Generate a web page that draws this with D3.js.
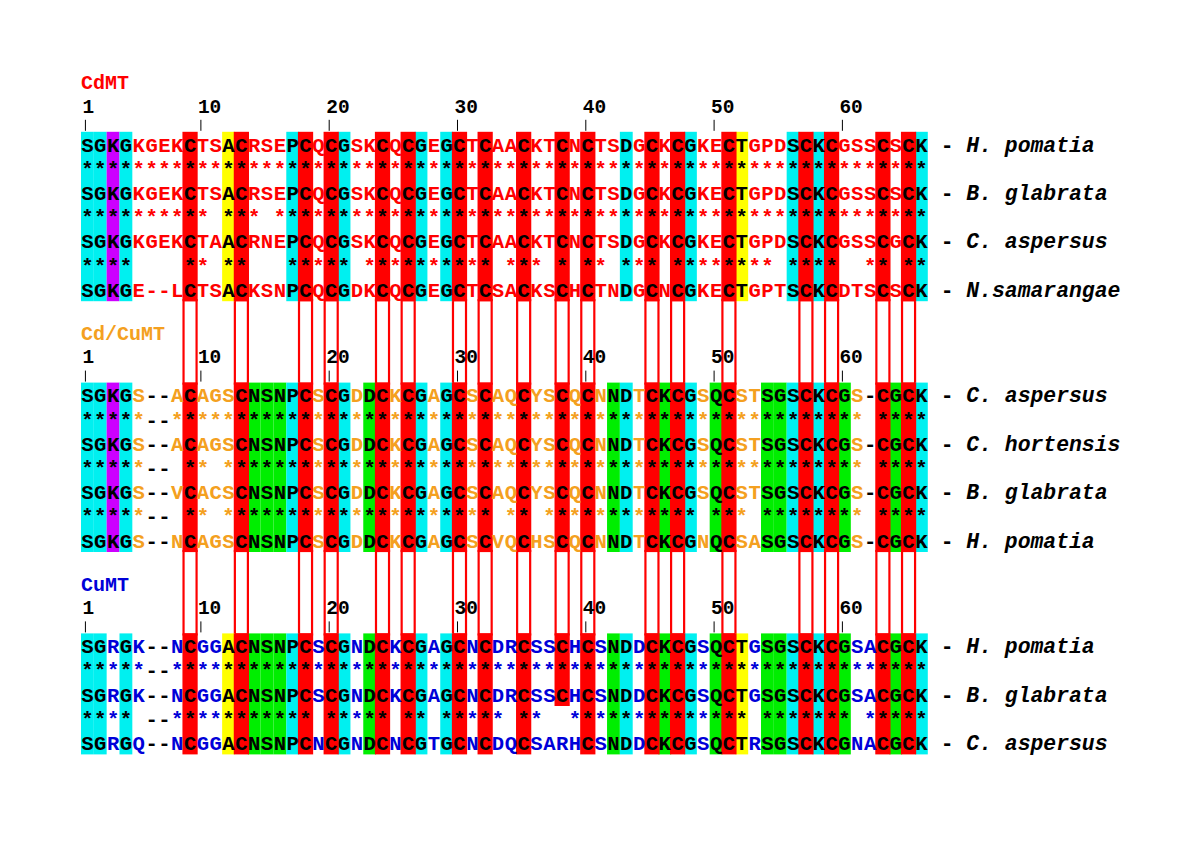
<!DOCTYPE html>
<html>
<head>
<meta charset="utf-8">
<script src="https://cdn.jsdelivr.net/npm/d3@7"></script>
<style>
  body { margin: 0; background: #fff; }
</style>
</head>
<body>
<main></main>
<script>
// ---------- data ----------
var columnNumbers = d3.range(1, 67);
var tickNumbers = [1, 10, 20, 30, 40, 50, 60];
var groupNames = ["CdMT", "Cd/CuMT", "CuMT"];

// strings are written in chunks of ten columns
var cdSpecies = ["H. pomatia", "B. glabrata", "C. aspersus", "N.samarangae"];
var cdSequences = [
    "SGKGKGEKCT" + "SACRSEPCQC" + "GSKCQCGEGC" + "TCAACKTCNC" + "TSDGCKCGKE" + "CTGPDSCKCG" + "SSCSCK",
    "SGKGKGEKCT" + "SACRSEPCQC" + "GSKCQCGEGC" + "TCAACKTCNC" + "TSDGCKCGKE" + "CTGPDSCKCG" + "SSCSCK",
    "SGKGKGEKCT" + "AACRNEPCQC" + "GSKCQCGEGC" + "TCAACKTCNC" + "TSDGCKCGKE" + "CTGPDSCKCG" + "SSCGCK",
    "SGKGE--LCT" + "SACKSNPCQC" + "GDKCQCGEGC" + "TCSACKSCHC" + "TNDGCNCGKE" + "CTGPTSCKCD" + "TSCSCK"
];
var cdStars = [
    "**********" + "**********" + "**********" + "**********" + "**********" + "**********" + "******",
    "**********" + " *** *****" + "**********" + "**********" + "**********" + "**********" + "******",
    "****    **" + " **   ****" + "* ********" + "** *** * *" + "* *** ****" + "**** **** " + " ** **"
];
var cdShading = "ccmc....r." + ".yr...cr.r" + "c..r.rc.cr" + ".r..r..r.r" + "..c.r.rc.." + "ry...crcr." + "..r.rc";

var ccSpecies = ["C. aspersus", "C. hortensis", "B. glabrata", "H. pomatia"];
var ccSequences = [
    "SGKGS--ACA" + "GSCNSNPCSC" + "GDDCKCGAGC" + "SCAQCYSCQC" + "NNDTCKCGSQ" + "CSTSGSCKCG" + "S-CGCK",
    "SGKGS--ACA" + "GSCNSNPCSC" + "GDDCKCGAGC" + "SCAQCYSCQC" + "NNDTCKCGSQ" + "CSTSGSCKCG" + "S-CGCK",
    "SGKGS--VCA" + "CSCNSNPCSC" + "GDDCKCGAGC" + "SCAQCYSCQC" + "NNDTCKCGSQ" + "CSTSGSCKCG" + "S-CGCK",
    "SGKGS--NCA" + "GSCNSNPCSC" + "GDDCKCGAGC" + "SCVQCHSCQC" + "NNDTCKCGNQ" + "CSASGSCKCG" + "S-CGCK"
];
var ccStars = [
    "*****--***" + "**********" + "**********" + "**********" + "**********" + "**********" + "* ****",
    "*****-- **" + " *********" + "**********" + "**********" + "**********" + "**********" + "* ****",
    "*****-- **" + " *********" + "**********" + "** ** ****" + "******** *" + "** *******" + "* ****"
];
var ccShading = "ccmc....r." + "..rgggcr.r" + "c.gr.rc.cr" + ".r..r..r.r" + ".gc.rgrc.g" + "r..ggcrcrg" + "..rgrc";

var cuSpecies = ["H. pomatia", "B. glabrata", "C. aspersus"];
var cuSequences = [
    "SGRGK--NCG" + "GACNSNPCSC" + "GNDCKCGAGC" + "NCDRCSSCHC" + "SNDDCKCGSQ" + "CTGSGSCKCG" + "SACGCK",
    "SGRGK--NCG" + "GACNSNPCSC" + "GNDCKCGAGC" + "NCDRCSSCHC" + "SNDDCKCGSQ" + "CTGSGSCKCG" + "SACGCK",
    "SGRGQ--NCG" + "GACNSNPCNC" + "GNDCNCGTGC" + "NCDQCSARHC" + "SNDDCKCGSQ" + "CTRSGSCKCG" + "NACGCK"
];
var cuStars = [
    "*****--***" + "**********" + "**********" + "**********" + "**********" + "**********" + "******",
    "**** --***" + "******** *" + "**** ** **" + "*** **  **" + "**********" + "** *******" + " *****"
];
var cuShading = "cc.c....r." + ".yrgggcr.r" + "c.gr.rc.cr" + ".r..r..r.r" + ".gc.rgrc.g" + "ry.ggcrcrg" + "..rgrc";
// column 38 of CuMT is only red over the first three lines
var cuShortColumns = {38: 3};

// ---------- styles ----------
var groupColor = ["#ff0000", "#f4a020", "#0000d8"];
var seqDashColor = ["#ff0000", "#000000", "#000000"];
var shadeColor = {c: "#00f0f0", m: "#cc00ff", y: "#ffff00", g: "#00ee00", r: "#ff0000"};
var mono = "'Liberation Mono', 'DejaVu Sans Mono', monospace";

var blocks = [
    {name: groupNames[0], species: cdSpecies, seqs: cdSequences, stars: cdStars, shade: cdShading, short: {}},
    {name: groupNames[1], species: ccSpecies, seqs: ccSequences, stars: ccStars, shade: ccShading, short: {}},
    {name: groupNames[2], species: cuSpecies, seqs: cuSequences, stars: cuStars, shade: cuShading, short: cuShortColumns}
];

var lineH = 24.2;
var x = d3.scaleBand().domain(columnNumbers).range([81, 927.8]);
var bw = x.bandwidth();
var blockTop = d3.scaleLinear().domain([0, 1]).range([131.8, 382.6]);

var svg = d3.select("main")
    .append("svg")
    .attr("width", 1200)
    .attr("height", 849)
    .style("display", "block");

svg.append("rect").attr("width", 1200).attr("height", 849).attr("fill", "#fff");

blocks.forEach(function (b, bi) {
    var nLines = b.seqs.length * 2 - 1;
    b.top = blockTop(bi);
    b.bottom = b.top + nLines * lineH;
    b.lines = [];
    b.seqs.forEach(function (s, i) {
        b.lines.push({text: s, seq: true, species: b.species[i]});
        if (i < b.stars.length) b.lines.push({text: b.stars[i], seq: false});
    });
    b.y = d3.scaleBand().domain(d3.range(nLines)).range([b.top, b.bottom]);
    b.redCols = columnNumbers.filter(function (c) { return b.shade[c - 1] === "r"; });
});

// red outlines joining the cysteine columns between blocks
var outline = svg.append("g").attr("id", "outlines");
[0, 1].forEach(function (bi) {
    var upper = blocks[bi], lower = blocks[bi + 1];
    outline.selectAll("rect.gap" + bi)
        .data(upper.redCols)
        .enter()
        .append("rect")
        .attr("x", function (c) { return x(c) - 0.1; })
        .attr("y", upper.bottom - 1)
        .attr("width", bw + 0.2)
        .attr("height", lower.top - upper.bottom + 2)
        .attr("fill", "none")
        .attr("stroke", "#ff0000")
        .attr("stroke-width", 2.2);
});

blocks.forEach(function (b, bi) {
    var g = svg.append("g").attr("class", "block");
    var nLines = b.lines.length;

    function coverage(c) {
        return b.short[c] !== undefined ? b.short[c] : nLines;
    }

    var cells = columnNumbers.filter(function (c) { return b.shade[c - 1] !== "."; });

    // shaded columns, red ones a little wider and on top
    g.selectAll("rect.shade")
        .data(cells.filter(function (c) { return b.shade[c - 1] !== "r"; }))
        .enter()
        .append("rect")
        .attr("x", function (c) { return x(c); })
        .attr("y", b.top)
        .attr("width", bw)
        .attr("height", function (c) { return coverage(c) * lineH; })
        .attr("fill", function (c) { return shadeColor[b.shade[c - 1]]; });

    g.selectAll("rect.red")
        .data(b.redCols)
        .enter()
        .append("rect")
        .attr("x", function (c) { return x(c) - 1.2; })
        .attr("y", b.top)
        .attr("width", bw + 2.4)
        .attr("height", function (c) { return coverage(c) * lineH; })
        .attr("fill", shadeColor.r);

    // letters and stars
    b.lines.forEach(function (line, li) {
        var chars = line.text.split("").map(function (ch, i) { return {ch: ch, col: i + 1}; });
        g.selectAll("text.l" + li)
            .data(chars.filter(function (d) { return d.ch !== " " && d.col <= 66; }))
            .enter()
            .append("text")
            .attr("x", function (d) { return x(d.col) + bw / 2; })
            .attr("y", b.y(li) + 19.7)
            .attr("text-anchor", "middle")
            .attr("font-family", mono)
            .attr("font-weight", "bold")
            .attr("font-size", 20.6)
            .attr("fill", function (d) {
                var shaded = b.shade[d.col - 1] !== "." && li < coverage(d.col);
                if (shaded) return "#000";
                if (d.ch === "-") return line.seq ? seqDashColor[bi] : "#000";
                return groupColor[bi];
            })
            .text(function (d) { return d.ch; });

        if (line.seq) {
            var label = g.append("text")
                .attr("x", x(66) + bw + bw)
                .attr("y", b.y(li) + 19.7)
                .attr("font-family", mono)
                .attr("font-weight", "bold")
                .attr("font-size", 21.4)
                .attr("fill", "#000")
                .attr("xml:space", "preserve");
            label.append("tspan").text("- ");
            label.append("tspan").attr("font-style", "italic").text(line.species);
        }
    });

    // group title, position numbers and ticks
    g.append("text")
        .attr("x", 81)
        .attr("y", b.top - 42.7)
        .attr("font-family", mono)
        .attr("font-weight", "bold")
        .attr("font-size", 20)
        .attr("fill", groupColor[bi])
        .text(b.name);

    var ticks = g.selectAll("g.tick")
        .data(tickNumbers)
        .enter()
        .append("g")
        .attr("transform", function (n) { return "translate(" + (x(n) + bw / 2 - 2) + ",0)"; });

    ticks.append("line")
        .attr("y1", b.top - 12)
        .attr("y2", b.top - 1)
        .attr("stroke", "#000")
        .attr("stroke-width", 1);

    ticks.append("text")
        .attr("x", -3)
        .attr("y", b.top - 19.3)
        .attr("font-family", mono)
        .attr("font-weight", "bold")
        .attr("font-size", 19.5)
        .attr("fill", "#000")
        .text(function (n) { return n; });
});
</script>
</body>
</html>
